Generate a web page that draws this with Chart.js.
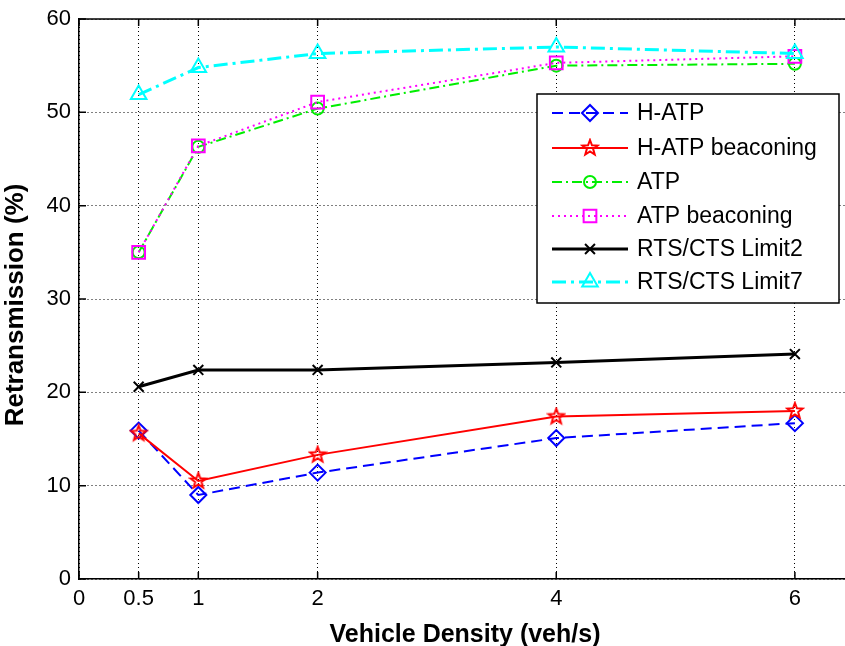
<!DOCTYPE html>
<html>
<head>
<meta charset="utf-8">
<script src="https://cdn.jsdelivr.net/npm/chart.js@4.4.1/dist/chart.umd.min.js"></script>
<style>
    html, body { margin: 0; padding: 0; background: #fff; overflow: hidden; }
    #wrap { width: 845px; height: 646px; position: relative; }
</style>
</head>
<body>
<div id="wrap"><canvas id="chart" width="845" height="646"></canvas></div>
<script>
// Data
const density = [0.5, 1, 2, 4, 6];
const xTicks = [0, 0.5, 1, 2, 4, 6];
const hAtp = [15.9, 9.0, 11.4, 15.1, 16.7];
const hAtpBeacon = [15.6, 10.5, 13.3, 17.4, 18.0];
const atp = [35.0, 46.3, 50.4, 55.0, 55.2];
const atpBeacon = [35.0, 46.4, 51.1, 55.3, 56.0];
const rtsLimit2 = [20.6, 22.4, 22.4, 23.2, 24.1];
const rtsLimit7 = [51.9, 54.8, 56.3, 57.0, 56.3];
const seriesNames = ['H-ATP', 'H-ATP beaconing', 'ATP', 'ATP beaconing', 'RTS/CTS Limit2', 'RTS/CTS Limit7'];

const FONT = "'Liberation Sans', Arial, Helvetica, sans-serif";

// MATLAB style pentagram marker
function makeStar(color, r) {
    const c = document.createElement('canvas');
    const s = Math.ceil(r * 2 + 4);
    c.width = s; c.height = s;
    const g = c.getContext('2d');
    g.strokeStyle = color;
    g.lineWidth = 2;
    g.beginPath();
    for (let i = 0; i < 10; i++) {
        const rad = i % 2 === 0 ? r : r * 0.42;
        const a = -Math.PI / 2 + i * Math.PI / 5;
        const px = s / 2 + rad * Math.cos(a), py = s / 2 + rad * Math.sin(a);
        if (i === 0) g.moveTo(px, py); else g.lineTo(px, py);
    }
    g.closePath();
    g.stroke();
    return c;
}

function series(idx, values, color, dash, width, style, radius) {
    return {
        label: seriesNames[idx],
        data: density.map((x, i) => ({ x: x, y: values[i] })),
        borderColor: color,
        borderWidth: width,
        borderDash: dash,
        pointStyle: style,
        pointRadius: radius,
        pointBorderColor: color,
        pointBackgroundColor: 'rgba(0,0,0,0)',
        pointBorderWidth: 2,
        tension: 0,
        fill: false,
        order: 5 - idx
    };
}

const datasets = [
    series(0, hAtp, '#0000ff', [11, 6], 2, 'rectRot', 8),
    series(1, hAtpBeacon, '#ff0000', [], 2, makeStar('#ff0000', 8), 8),
    series(2, atp, '#00ee00', [10, 4, 2, 4], 2, 'circle', 6),
    series(3, atpBeacon, '#ff00ff', [2, 4], 2, 'rect', 9),
    series(4, rtsLimit2, '#000000', [], 3, 'crossRot', 7),
    series(5, rtsLimit7, '#00ffff', [14, 5, 3, 5], 3, 'triangle', 9)
];

// Titles, top frame, inward ticks and legend
const matlabAxes = {
    id: 'matlabAxes',
    afterDraw(chart) {
        const ctx = chart.ctx;
        const area = chart.chartArea;
        const xs = chart.scales.x, ys = chart.scales.y;

        ctx.save();
        ctx.strokeStyle = '#000';
        ctx.lineWidth = 1.5;
        ctx.beginPath();
        ctx.moveTo(area.left, area.top);
        ctx.lineTo(area.right, area.top);
        ctx.stroke();

        ctx.beginPath();
        xs.ticks.forEach(t => {
            const px = xs.getPixelForValue(t.value);
            ctx.moveTo(px, area.bottom); ctx.lineTo(px, area.bottom - 7);
            ctx.moveTo(px, area.top); ctx.lineTo(px, area.top + 7);
        });
        ys.ticks.forEach(t => {
            const py = ys.getPixelForValue(t.value);
            ctx.moveTo(area.left, py); ctx.lineTo(area.left + 7, py);
        });
        ctx.stroke();

        // axis titles
        ctx.fillStyle = '#000';
        ctx.font = 'bold 25px ' + FONT;
        ctx.textAlign = 'center';
        ctx.textBaseline = 'alphabetic';
        ctx.fillText('Vehicle Density (veh/s)', 465, 642);

        ctx.save();
        ctx.translate(23, 305);
        ctx.rotate(-Math.PI / 2);
        ctx.font = 'bold 26px ' + FONT;
        ctx.fillText('Retransmission (%)', 0, 0);
        ctx.restore();

        // legend box
        const bx = 537, by = 94, bw = 302, bh = 209;
        ctx.fillStyle = '#fff';
        ctx.fillRect(bx, by, bw, bh);
        ctx.strokeStyle = '#000';
        ctx.lineWidth = 1.5;
        ctx.strokeRect(bx, by, bw, bh);

        const rowY = [113, 148, 182, 216, 249, 282];
        chart.data.datasets.forEach((d, i) => {
            const y = rowY[i];
            ctx.save();
            ctx.strokeStyle = d.borderColor;
            ctx.lineWidth = d.borderWidth;
            ctx.setLineDash(d.borderDash);
            ctx.beginPath();
            ctx.moveTo(552, y);
            ctx.lineTo(628, y);
            ctx.stroke();
            ctx.setLineDash([]);
            ctx.lineWidth = d.pointBorderWidth;
            ctx.fillStyle = 'rgba(0,0,0,0)';
            Chart.helpers.drawPoint(ctx, {
                pointStyle: d.pointStyle,
                radius: d.pointRadius,
                borderWidth: d.pointBorderWidth,
                rotation: 0
            }, 590, y);
            ctx.restore();

            ctx.fillStyle = '#000';
            ctx.font = '23px ' + FONT;
            ctx.textAlign = 'left';
            ctx.textBaseline = 'middle';
            ctx.fillText(d.label, 637, y + 1);
        });
        ctx.restore();
    }
};

new Chart(document.getElementById('chart').getContext('2d'), {
    type: 'line',
    data: { datasets: datasets },
    options: {
        responsive: false,
        animation: false,
        layout: { autoPadding: false, padding: { top: 19, right: 0, left: 0, bottom: 0 } },
        plugins: {
            legend: { display: false },
            tooltip: { enabled: false }
        },
        scales: {
            x: {
                type: 'linear',
                min: 0,
                max: 6.42,
                afterBuildTicks: s => { s.ticks = xTicks.map(v => ({ value: v })); },
                afterFit: s => { s.height = 67; s.paddingLeft = 0; s.paddingRight = 0; },
                grid: { color: '#000', lineWidth: 1, drawTicks: false },
                border: { display: true, color: '#000', width: 1.5, dash: [1, 3] },
                ticks: {
                    color: '#000',
                    font: { family: FONT, size: 22 },
                    padding: 7,
                    maxRotation: 0,
                    autoSkip: false,
                    callback: v => String(v)
                }
            },
            y: {
                min: 0,
                max: 60,
                afterFit: s => { s.width = 79; s.paddingTop = 0; s.paddingBottom = 0; },
                grid: { color: '#000', lineWidth: 1, drawTicks: false },
                border: { display: true, color: '#000', width: 1.5, dash: [1, 3] },
                ticks: {
                    stepSize: 10,
                    color: '#000',
                    font: { family: FONT, size: 22 },
                    padding: 8
                }
            }
        }
    },
    plugins: [matlabAxes]
});
</script>
</body>
</html>
